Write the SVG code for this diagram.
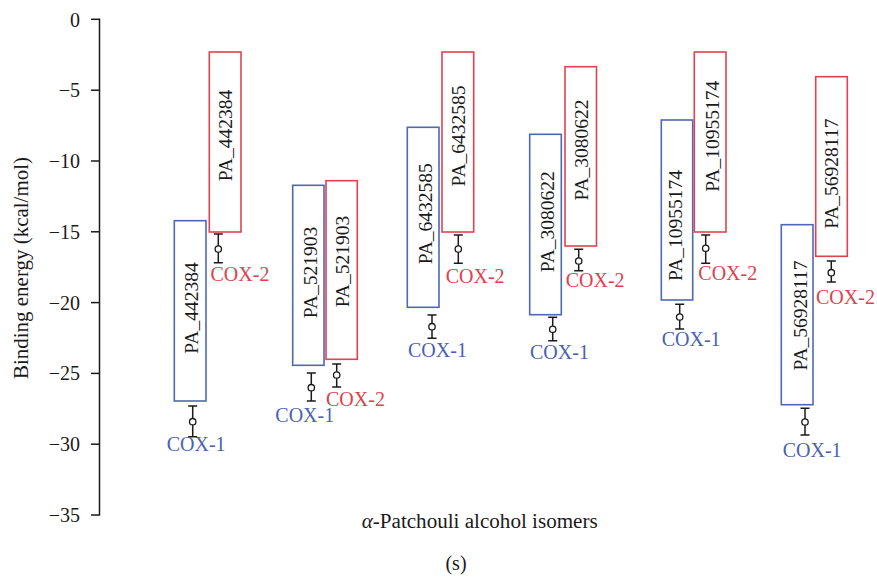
<svg xmlns="http://www.w3.org/2000/svg" width="877" height="580" viewBox="0 0 877 580" font-family="'Liberation Serif', 'DejaVu Serif', serif">
<style>
  text { font-family: "Liberation Serif", "DejaVu Serif", "Noto Serif", serif; fill: #1a1a1a; }
  .tick { font-size: 20px; text-anchor: end; }
  .axis { stroke: #1a1a1a; stroke-width: 1.5; fill: none; }
  .b1 { fill: #ffffff; stroke: #4f68b3; stroke-width: 1.6; }
  .b2 { fill: #ffffff; stroke: #e0434e; stroke-width: 1.6; }
  .bl { font-size: 19.5px; text-anchor: middle; }
  .c1 { font-size: 20px; fill: #4a62b0; }
  .c2 { font-size: 20px; fill: #e0404c; }
  .err { stroke: #1a1a1a; stroke-width: 1.5; fill: none; }
  .dot { stroke: #1a1a1a; stroke-width: 1.3; fill: #ffffff; }
</style>
<rect width="877" height="580" fill="#ffffff"/>

<g id="y-axis">
  <line class="axis" x1="99.5" y1="18.5" x2="99.5" y2="515.5"/>
  <g class="axis">
    <line x1="91" y1="19.3" x2="99.5" y2="19.3"/>
    <line x1="91" y1="90.2" x2="99.5" y2="90.2"/>
    <line x1="91" y1="161" x2="99.5" y2="161"/>
    <line x1="91" y1="231.8" x2="99.5" y2="231.8"/>
    <line x1="91" y1="302.6" x2="99.5" y2="302.6"/>
    <line x1="91" y1="373.4" x2="99.5" y2="373.4"/>
    <line x1="91" y1="444.2" x2="99.5" y2="444.2"/>
    <line x1="91" y1="515" x2="99.5" y2="515"/>
  </g>
  <text class="tick" x="80" y="26.5">0</text>
  <text class="tick" x="80" y="97.2">−5</text>
  <text class="tick" x="80" y="168">−10</text>
  <text class="tick" x="80" y="238.8">−15</text>
  <text class="tick" x="80" y="309.6">−20</text>
  <text class="tick" x="80" y="380.4">−25</text>
  <text class="tick" x="80" y="451.2">−30</text>
  <text class="tick" x="80" y="522">−35</text>
  <text transform="translate(28.3,268) rotate(-90)" x="0" y="0" font-size="20" text-anchor="middle" textLength="222" lengthAdjust="spacingAndGlyphs">Binding energy (kcal/mol)</text>
</g>

<g id="x-label">
  <text x="479.7" y="528" font-size="20" text-anchor="middle" textLength="236" lengthAdjust="spacingAndGlyphs"><tspan font-style="italic">α</tspan>-Patchouli alcohol isomers</text>
  <text x="456" y="570" font-size="20" text-anchor="middle">(s)</text>
</g>

<!-- Group 1 -->
<g id="pa442384-cox1">
  <rect class="b1" x="174.3" y="220.7" width="31.7" height="180.3"/>
  <text class="bl" transform="translate(198.3,308) rotate(-90)">PA_442384</text>
  <text class="c1" x="166.7" y="450.7">COX-1</text>
</g>
<g id="pa442384-cox2">
  <rect class="b2" x="209.3" y="52" width="31.7" height="180"/>
  <text class="bl" transform="translate(232,135.5) rotate(-90)">PA_442384</text>
  <text class="c2" x="210.5" y="280.5">COX-2</text>
</g>

<!-- Group 2 -->
<g id="pa521903-cox1">
  <rect class="b1" x="292.7" y="185.3" width="31.3" height="180"/>
  <text class="bl" transform="translate(316.5,272.5) rotate(-90)">PA_521903</text>
  <text class="c1" x="275.3" y="422">COX-1</text>
</g>
<g id="pa521903-cox2">
  <rect class="b2" x="326" y="180.7" width="31.3" height="178.6"/>
  <text class="bl" transform="translate(349,261.5) rotate(-90)">PA_521903</text>
  <text class="c2" x="326" y="406">COX-2</text>
</g>

<!-- Group 3 -->
<g id="pa6432585-cox1">
  <rect class="b1" x="407.3" y="127.3" width="31.7" height="180"/>
  <text class="bl" transform="translate(431.5,213.7) rotate(-90)">PA_6432585</text>
  <text class="c1" x="408" y="357">COX-1</text>
</g>
<g id="pa6432585-cox2">
  <rect class="b2" x="442" y="52" width="31.7" height="180"/>
  <text class="bl" transform="translate(465,136) rotate(-90)">PA_6432585</text>
  <text class="c2" x="445.7" y="283">COX-2</text>
</g>

<!-- Group 4 -->
<g id="pa3080622-cox1">
  <rect class="b1" x="529.7" y="134.3" width="31.6" height="180.4"/>
  <text class="bl" transform="translate(554,221.7) rotate(-90)">PA_3080622</text>
  <text class="c1" x="530" y="359">COX-1</text>
</g>
<g id="pa3080622-cox2">
  <rect class="b2" x="565" y="66.7" width="31.5" height="179.3"/>
  <text class="bl" transform="translate(588,150) rotate(-90)">PA_3080622</text>
  <text class="c2" x="565.7" y="287.3">COX-2</text>
</g>

<!-- Group 5 -->
<g id="pa10955174-cox1">
  <rect class="b1" x="661.3" y="120" width="31.4" height="180"/>
  <text class="bl" transform="translate(682,225.5) rotate(-90)">PA_10955174</text>
  <text class="c1" x="661.7" y="346">COX-1</text>
</g>
<g id="pa10955174-cox2">
  <rect class="b2" x="694.3" y="52" width="31.7" height="180"/>
  <text class="bl" transform="translate(719,136.3) rotate(-90)">PA_10955174</text>
  <text class="c2" x="698.3" y="280">COX-2</text>
</g>

<!-- Group 6 -->
<g id="pa56928117-cox1">
  <rect class="b1" x="781.3" y="224.7" width="31.7" height="180"/>
  <text class="bl" transform="translate(806.5,315.5) rotate(-90)">PA_56928117</text>
  <text class="c1" x="782.7" y="456.7">COX-1</text>
</g>
<g id="pa56928117-cox2">
  <rect class="b2" x="815.7" y="76.7" width="31.6" height="179.6"/>
  <text class="bl" transform="translate(838,173.7) rotate(-90)">PA_56928117</text>
  <text class="c2" x="816" y="304.3">COX-2</text>
</g>

<!-- Error bars -->
<g id="error-bars" class="err">
  <path d="M192.7 406V436.7M188.2 406H197.2M188.2 436.7H197.2"/>
  <path d="M218.3 234V262.7M213.8 234H222.8M213.8 262.7H222.8"/>
  <path d="M311.3 373V401M306.8 373H315.8M306.8 401H315.8"/>
  <path d="M336.7 364V387M332.2 364H341.2M332.2 387H341.2"/>
  <path d="M432 315V338.3M427.5 315H436.5M427.5 338.3H436.5"/>
  <path d="M458.3 235V263.3M453.8 235H462.8M453.8 263.3H462.8"/>
  <path d="M552.7 317.3V340.7M548.2 317.3H557.2M548.2 340.7H557.2"/>
  <path d="M578.7 249.3V270.7M574.2 249.3H583.2M574.2 270.7H583.2"/>
  <path d="M679.7 304.3V329M675.2 304.3H684.2M675.2 329H684.2"/>
  <path d="M705.7 235V263.3M701.2 235H710.2M701.2 263.3H710.2"/>
  <path d="M805 408.3V435M800.5 408.3H809.5M800.5 435H809.5"/>
  <path d="M831.3 261V282M826.8 261H835.8M826.8 282H835.8"/>
  <circle class="dot" cx="192.7" cy="421.7" r="3.2"/>
  <circle class="dot" cx="218.3" cy="249" r="3.2"/>
  <circle class="dot" cx="311.3" cy="387.7" r="3.2"/>
  <circle class="dot" cx="336.7" cy="375" r="3.2"/>
  <circle class="dot" cx="432" cy="326.7" r="3.2"/>
  <circle class="dot" cx="458.3" cy="249" r="3.2"/>
  <circle class="dot" cx="552.7" cy="329.3" r="3.2"/>
  <circle class="dot" cx="578.7" cy="261" r="3.2"/>
  <circle class="dot" cx="679.7" cy="317" r="3.2"/>
  <circle class="dot" cx="705.7" cy="248.3" r="3.2"/>
  <circle class="dot" cx="805" cy="422" r="3.2"/>
  <circle class="dot" cx="831.3" cy="272.7" r="3.2"/>
</g>
</svg>
